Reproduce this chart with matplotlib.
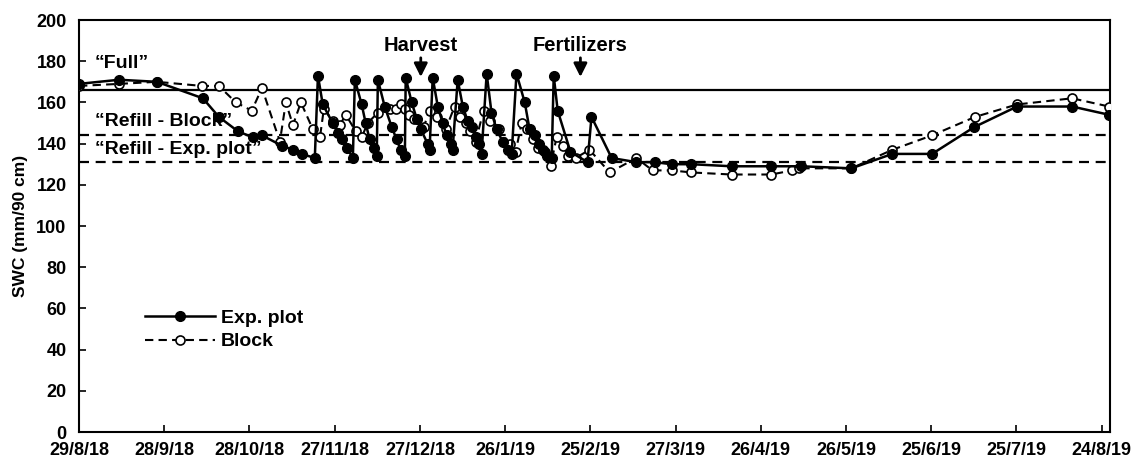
"""
SWC (mm/90 cm) ao longo do ciclo: parcela experimental vs. bloco.
"""
import matplotlib
matplotlib.use("Agg")
import matplotlib.pyplot as plt

plt.rcParams["font.family"] = ["Liberation Sans", "DejaVu Sans"]
plt.rcParams["font.weight"] = "bold"

# dias desde 29/8/18
EXP_DAY = [0.0, 14.1, 27.4, 43.6, 49.2, 55.9, 61.2, 64.4, 71.4, 75.3, 78.4, 83.0,
           84.1, 85.8, 89.3, 91.1, 92.5, 94.3, 96.4,
           97.1, 99.5, 100.9, 102.3, 103.7, 104.8,
           105.2, 107.6, 110.1, 111.8, 113.2, 114.7,
           115.0, 117.1, 118.9, 120.3, 122.7, 123.4,
           124.5, 126.3, 128.0, 129.4, 130.8, 131.5,
           133.3, 135.1, 136.8, 138.2, 139.6, 140.7, 141.7,
           143.5, 145.2, 147.0, 149.1, 150.9, 152.3,
           154.0, 156.9, 158.6, 160.4, 161.8, 163.2, 164.9, 166.4,
           167.1, 168.5, 173.0, 179.0,
           180.4, 187.5, 196.2, 202.6, 208.6, 215.6, 229.7, 243.7, 254.3,
           271.9, 286.3, 300.3, 315.1, 330.2, 349.6, 362.6]
EXP_SWC = [169, 171, 170, 162, 153, 146, 143, 144, 139, 137, 135, 133,
           173, 159, 150, 145, 142, 138, 133,
           171, 159, 150, 142, 138, 134,
           171, 158, 148, 142, 137, 134,
           172, 160, 152, 147, 140, 137,
           172, 158, 150, 144, 140, 137,
           171, 158, 151, 148, 143, 140, 135,
           174, 155, 147, 141, 137, 135,
           174, 160, 147, 144, 140, 137, 134, 133,
           173, 156, 136, 131,
           153, 133, 131, 131, 130, 130, 129, 129, 129,
           128, 135, 135, 148, 158, 158, 154]

BLK_DAY = [0.0, 14.1, 27.4, 43.3, 49.2, 55.2, 60.8, 64.4, 70.7, 72.8, 75.3, 78.1,
           82.3, 84.8, 86.2, 89.3, 91.8, 93.9, 97.4, 99.5, 101.6,
           105.2, 109.4, 111.5, 113.2, 114.7, 116.1, 117.8, 121.3,
           123.4, 125.9, 129.1, 132.2, 134.0, 136.1, 137.5, 139.6,
           142.4, 144.5, 147.7, 151.6, 153.7, 155.8, 157.6, 159.7, 161.4,
           163.9, 166.0, 168.1, 170.2, 172.3, 174.8, 179.7, 186.8,
           196.2, 201.9, 208.6, 215.6, 229.7, 243.7, 251.1, 253.6,
           271.9, 286.3, 300.3, 315.5, 330.2, 349.6, 362.6]
BLK_SWC = [168, 169, 170, 168, 168, 160, 156, 167, 141, 160, 149, 160,
           147, 143, 157, 151, 149, 154, 146, 143, 150,
           155, 157, 157, 159, 157, 154, 152, 148,
           156, 153, 147, 158, 153, 150, 146, 141,
           156, 151, 147, 140, 136, 150, 147, 142, 138,
           136, 129, 143, 139, 134, 133, 137, 126,
           133, 127, 127, 126, 125, 125, 127, 128,
           128, 137, 144, 153, 159, 162, 158]

TICK_DAYS   = [0, 30, 60, 90, 120, 150, 180, 210, 240, 270, 300, 330, 360]
TICK_LABELS = ["29/8/18", "28/9/18", "28/10/18", "27/11/18", "27/12/18", "26/1/19",
               "25/2/19", "27/3/19", "26/4/19", "26/5/19", "25/6/19", "25/7/19",
               "24/8/19"]

FULL, REFILL_BLOCK, REFILL_EXP = 166, 144, 131

fig = plt.figure(figsize=(11.34, 4.59), dpi=100)
ax = fig.add_axes([0.0697, 0.0588, 0.9093, 0.8976])

ax.axhline(FULL, color="black", lw=1.6, zorder=1)
ax.axhline(REFILL_BLOCK, color="black", lw=1.6, ls=(0, (4.5, 3)), zorder=1)
ax.axhline(REFILL_EXP, color="black", lw=1.6, ls=(0, (4.5, 3)), zorder=1)

ax.plot(BLK_DAY, BLK_SWC, color="black", lw=1.5, ls=(0, (4, 2.5)),
        marker="o", ms=6.5, mfc="white", mec="black", mew=1.2,
        label="Block", zorder=3)
ax.plot(EXP_DAY, EXP_SWC, color="black", lw=1.8,
        marker="o", ms=7, mfc="black", mec="black",
        label="Exp. plot", zorder=4)

ax.text(5.5, 179, "\u201cFull\u201d", fontsize=14, fontweight="bold", va="center")
ax.text(5.5, 150.5, "\u201cRefill - Block\u201d", fontsize=14, fontweight="bold", va="center")
ax.text(5.5, 137, "\u201cRefill - Exp. plot\u201d", fontsize=14, fontweight="bold", va="center")

for lab, xd in [("Harvest", 120.3), ("Fertilizers", 176.5)]:
    ax.text(xd, 187.5, lab, fontsize=14.5, fontweight="bold", ha="center", va="center")
    ax.annotate("", xy=(xd, 171), xytext=(xd, 183),
                arrowprops=dict(arrowstyle="-|>,head_width=0.4,head_length=0.8",
                                color="black", lw=2))

ax.set_xlim(0, 363)
ax.set_ylim(0, 200)
ax.set_xticks(TICK_DAYS)
ax.set_xticklabels(TICK_LABELS)
ax.set_yticks(range(0, 201, 20))
ax.tick_params(direction="in", length=5, width=1.2, labelsize=13)
ax.tick_params(axis="x", pad=7)
ax.tick_params(axis="y", pad=9)
for lbl in ax.get_xticklabels() + ax.get_yticklabels():
    lbl.set_fontweight("bold")
for sp in ax.spines.values():
    sp.set_linewidth(1.5)
ax.set_ylabel("SWC (mm/90 cm)", fontsize=12.5, fontweight="bold", labelpad=6)

h, l = ax.get_legend_handles_labels()
ax.legend(h[::-1], l[::-1], loc="upper left", bbox_to_anchor=(0.047, 0.34),
          frameon=False, handlelength=3.6, handletextpad=0.3, labelspacing=0.3,
          prop={"weight": "bold", "size": 14})

fig.savefig("out.png", dpi=100)
